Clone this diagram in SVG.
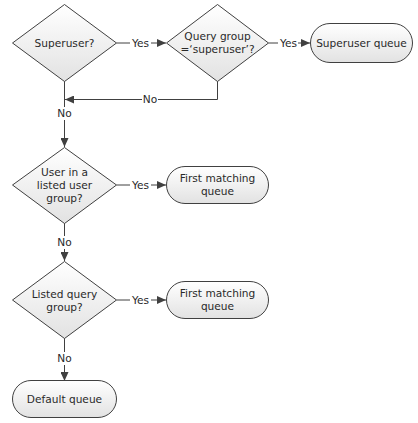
<svg xmlns="http://www.w3.org/2000/svg" width="418" height="423" viewBox="0 0 418 423">
<defs>
<linearGradient id="g" x1="0" y1="0" x2="0" y2="1">
<stop offset="0" stop-color="#ffffff"/>
<stop offset="1" stop-color="#e2e2e2"/>
</linearGradient>
<marker id="arr" viewBox="0 0 9 8" refX="9" refY="4" markerWidth="9" markerHeight="8" markerUnits="userSpaceOnUse" orient="auto">
<path d="M0,0 L9,4 L0,8 Z" fill="#404040"/>
</marker>
<style>
.shape{fill:url(#g);stroke:#404040;stroke-width:1}
.t{font-family:"DejaVu Sans",Verdana,sans-serif;font-size:10.6px;fill:#2a2a2a;text-anchor:middle}
.c{fill:none;stroke:#404040;stroke-width:1}
.lbl{font-family:"DejaVu Sans",Verdana,sans-serif;font-size:10.6px;fill:#2a2a2a;text-anchor:middle}
.bg{fill:#ffffff}
</style>
</defs>
<rect width="418" height="423" fill="#ffffff"/>
<g id="connectors">
<path class="c" d="M116.5,43 H166" marker-end="url(#arr)"/>
<path class="c" d="M268.5,43 H310" marker-end="url(#arr)"/>
<path class="c" d="M217.5,81 V99.5 H65" marker-end="url(#arr)"/>
<path class="c" d="M64.5,81 V147" marker-end="url(#arr)"/>
<path class="c" d="M116.5,185 H166" marker-end="url(#arr)"/>
<path class="c" d="M64.5,223 V261" marker-end="url(#arr)"/>
<path class="c" d="M116.5,300 H166" marker-end="url(#arr)"/>
<path class="c" d="M64.5,338 V381" marker-end="url(#arr)"/>
<rect class="bg" x="130" y="36" width="21" height="13"/>
<text class="lbl" x="140.5" y="46.8">Yes</text>
<rect class="bg" x="278" y="36" width="20" height="13"/>
<text class="lbl" x="288.5" y="46.8">Yes</text>
<rect class="bg" x="142" y="93" width="16" height="13"/>
<text class="lbl" x="150" y="103.3">No</text>
<rect class="bg" x="56" y="107" width="17" height="13"/>
<text class="lbl" x="64.5" y="117.3">No</text>
<rect class="bg" x="130" y="178" width="21" height="13"/>
<text class="lbl" x="140.5" y="188.8">Yes</text>
<rect class="bg" x="56" y="236" width="17" height="13"/>
<text class="lbl" x="64.5" y="246.3">No</text>
<rect class="bg" x="130" y="293" width="21" height="13"/>
<text class="lbl" x="140.5" y="303.8">Yes</text>
<rect class="bg" x="56" y="352" width="17" height="13"/>
<text class="lbl" x="64.5" y="362.3">No</text>
</g>
<g id="superuser">
<polygon class="shape" points="64.5,4.5 116.5,43 64.5,81.5 12.5,43"/>
<text class="t" x="64.5" y="46.8">Superuser?</text>
</g>
<g id="querygroup">
<polygon class="shape" points="217.5,4.5 268.5,43 217.5,81.5 166.5,43"/>
<text class="t" x="217.5" y="40">Query group</text>
<text class="t" x="217.5" y="53">=‘superuser’?</text>
</g>
<g id="superuserqueue">
<rect class="shape" x="310.5" y="23.5" width="102" height="39" rx="19.5" ry="19.5"/>
<text class="t" x="361.5" y="46.8">Superuser queue</text>
</g>
<g id="usergroup">
<polygon class="shape" points="64.5,147.5 116.5,185 64.5,223.5 12.5,185"/>
<text class="t" x="64.5" y="175.5">User in a</text>
<text class="t" x="64.5" y="188.5">listed user</text>
<text class="t" x="64.5" y="201.5">group?</text>
</g>
<g id="firstmatching1">
<rect class="shape" x="166.5" y="166.5" width="102" height="37" rx="18.5" ry="18.5"/>
<text class="t" x="217.5" y="182">First matching</text>
<text class="t" x="217.5" y="195">queue</text>
</g>
<g id="querygrouplisted">
<polygon class="shape" points="64.5,261.5 116.5,300 64.5,338.5 12.5,300"/>
<text class="t" x="64.5" y="297.5">Listed query</text>
<text class="t" x="64.5" y="310.5">group?</text>
</g>
<g id="firstmatching2">
<rect class="shape" x="166.5" y="281.5" width="102" height="37" rx="18.5" ry="18.5"/>
<text class="t" x="217.5" y="297">First matching</text>
<text class="t" x="217.5" y="310">queue</text>
</g>
<g id="defaultqueue">
<rect class="shape" x="12.5" y="380.5" width="104" height="37" rx="18.5" ry="18.5"/>
<text class="t" x="64.5" y="402.8">Default queue</text>
</g>
</svg>
